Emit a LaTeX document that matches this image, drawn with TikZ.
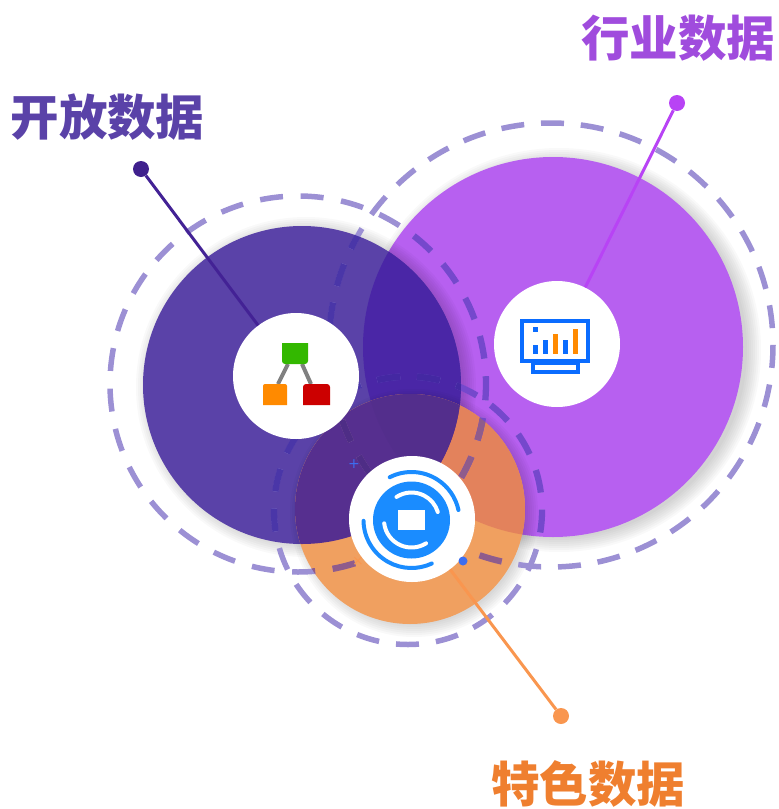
\documentclass[tikz,border=0pt]{standalone}
\usepackage{fontspec}
\newfontfamily\cjk{Noto Sans CJK SC}
\newfontfamily\markfont{DejaVu Sans}
\usetikzlibrary{calc}
\usetikzlibrary{positioning}
\definecolor{darkdisc}{HTML}{5A42A8}
\definecolor{violetdisc}{HTML}{B760F0}
\definecolor{orangedisc}{HTML}{F0A060}
\definecolor{darkviolet}{HTML}{4A26A6}
\definecolor{darkorange}{HTML}{562F8F}
\definecolor{violetorange}{HTML}{E3825C}
\definecolor{tripledisc}{HTML}{532E8C}
\definecolor{ringline}{HTML}{9C90D4}
\definecolor{ringviolet}{HTML}{7548CC}
\definecolor{ringdark}{HTML}{4A36A8}
\definecolor{ringtriple}{HTML}{4428A2}
\definecolor{ringorange}{HTML}{8F5C8C}
\definecolor{ringdarkorange}{HTML}{4E2D86}
\definecolor{iconblue}{HTML}{0A6CFF}
\definecolor{iconround}{HTML}{1A8CFF}
\definecolor{iconorange}{HTML}{FF8A00}
\definecolor{markblue}{HTML}{3D6EF0}
\definecolor{pinorange}{HTML}{F9964F}
\definecolor{pinviolet}{HTML}{B843F5}
\definecolor{titleviolet}{HTML}{A04CDD}
\definecolor{titleorange}{HTML}{EF7F2F}
\newcommand{\ringwidth}{5.5pt}
\tikzset{
  x=1pt,y=1pt,
  ring/.style={draw=#1,line width=\ringwidth},
  openring/.style={ring=#1,dash pattern=on 23pt off 17.7pt,dash phase=15.2pt},
  tradering/.style={ring=#1,dash pattern=on 23pt off 16.86pt,dash phase=22.96pt},
  specialring/.style={ring=#1,dash pattern=on 23pt off 17.1pt,dash phase=22.1pt},
  whitedisc/.style={circle,fill=white,inner sep=0pt,minimum size=126pt},
  dot/.style={circle,inner sep=0pt,minimum size=16pt},
  pin/.style={line width=3pt,color=#1},
  title/.style={font=\cjk\bfseries\fontsize{48.5}{48.5}\selectfont},
  marker/.style={inner sep=0pt,font=\markfont\fontsize{14}{14}\selectfont},
}
\newcommand{\ringset}[1]{
  \draw[openring=#1] (298,-384) circle (188);
  \draw[tradering=#1] (551,-345) circle (222);
  \draw[specialring=#1] (408,-510.5) circle (134);
}
\begin{document}
\begin{tikzpicture}
    \useasboundingbox (0,-809) rectangle (779,0);
    \coordinate (darkc) at (302,-385);
    \coordinate (violetc) at (553,-347);
    \coordinate (orangec) at (410,-509);

    \foreach \r in {0,...,7}
      \fill[black,opacity=.025] ($(violetc)+(6,-3)$) circle (188+2*\r);
    \fill[violetdisc] (violetc) circle (190);
    \foreach \r in {0,...,6}
      \fill[black,opacity=.025] ($(darkc)+(4,-2)$) circle (158+2*\r);
    \fill[darkdisc] (darkc) circle (159);
    \begin{scope}
      \clip (violetc) circle (190);
      \fill[darkviolet] (darkc) circle (159);
    \end{scope}
    \foreach \r in {0,...,6}
      \fill[black,opacity=.025] ($(orangec)+(4,-4)$) circle (112+2*\r);
    \fill[orangedisc] (orangec) circle (115);
    \begin{scope}
      \clip (orangec) circle (115);
      \fill[violetorange] (violetc) circle (190);
      \fill[darkorange] (darkc) circle (159);
      \clip (violetc) circle (190);
      \fill[tripledisc] (darkc) circle (159);
    \end{scope}

    \ringset{ringline}
    \renewcommand{\ringwidth}{6.3pt}
    \begin{scope}
      \clip (violetc) circle (190);
      \ringset{ringviolet}
    \end{scope}
    \begin{scope}
      \clip (darkc) circle (159);
      \ringset{ringdark}
      \clip (violetc) circle (190);
      \ringset{ringtriple}
    \end{scope}
    \begin{scope}
      \clip (orangec) circle (115);
      \ringset{ringorange}
      \clip (darkc) circle (159);
      \ringset{ringdarkorange}
    \end{scope}

    \node[whitedisc] (open) at (296,-376) {};
    \node[whitedisc] (trade) at (557,-344) {};
    \node[whitedisc] (special) at (412,-519) {};

    \node[dot,fill=darkviolet!85!black] (opendot) at (141,-169) {};
    \node[dot,fill=pinviolet] (tradedot) at (677,-103) {};
    \node[dot,fill=pinorange] (specialdot) at (561,-716) {};

    \draw[pin=darkviolet!90!black] (opendot) -- (open);
    \draw[pin=pinviolet] (tradedot) -- (trade);
    \draw[pin=pinorange] (specialdot) -- (special);

    \node[title,text=darkdisc] (opentext) at (107.5,-117) {开放数据};
    \node[title,text=titleviolet] (tradetext) at (678,-38) {行业数据};
    \node[title,text=titleorange] (specialtext) at (588,-784) {特色数据};

    \node[marker,text=markblue] (plus) at (354,-464) {+};
    \node[marker,text=pinorange] (cross) at (358,-561) {×};
    \node[circle,fill=markblue,inner sep=0pt,minimum size=9pt] (bluedot) at (463,-561) {};

    \draw[gray,line width=4pt] (288,-364) -- (278,-384);
    \draw[gray,line width=4pt] (302,-364) -- (311,-384);
    \fill[green!65!black!80!yellow] (282,-343) -- (308,-343) {[rounded corners=3pt] -- (308,-364) -- (282,-364)} -- cycle;
    \fill[iconorange] (263,-405) -- (287,-405) {[rounded corners=2pt] -- (287,-384) -- (263,-384)} -- cycle;
    \fill[red!80!black] (303,-405) -- (330,-405) {[rounded corners=3pt] -- (330,-384) -- (303,-384)} -- cycle;

    \draw[iconblue,line width=4pt] (522,-321) rectangle (588,-361);
    \draw[iconblue,line width=4pt] (533,-363) rectangle (578,-372);
    \fill[iconblue] (533,-327) rectangle (538,-332);
    \foreach \x/\y/\c in {533/345/iconblue,543/340/iconblue,553/334/iconorange,563/340/iconblue,573/329/iconorange}
      \fill[\c] (\x,-\y) rectangle (\x+5,-354);

    \fill[iconround] (411.5,-520) circle (38.5);
    \fill[white] (398,-510) rectangle (425,-530);
    \draw[white,line width=4pt,line cap=round] (411.5,-520) ++(123:27.5) arc (123:17:27.5);
    \draw[white,line width=4pt,line cap=round] (411.5,-520) ++(187:27.5) arc (187:302:27.5);
    \draw[iconround,line width=4pt,line cap=round] (411.5,-520) ++(117:48) arc (117:12:48);
    \draw[iconround,line width=4pt,line cap=round] (411.5,-520) ++(181:48) arc (181:295:48);
  \end{tikzpicture}
\end{document}
